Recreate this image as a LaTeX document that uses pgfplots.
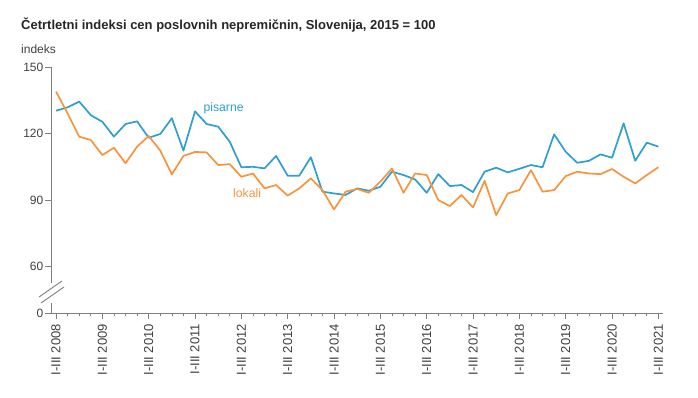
\documentclass[border=0pt]{standalone}
\usepackage{fontspec}
\setmainfont{Liberation Sans}
\usepackage{pgfplots}
\usepackage{pgfplotstable}
\pgfplotsset{compat=1.18}
\definecolor{cblue}{HTML}{2E9FCF}
\definecolor{corange}{HTML}{F7943C}
\definecolor{axgray}{HTML}{7F7F7F}
\definecolor{txtgray}{HTML}{404040}
\pgfplotstableread{
i pisarne lokali
0 130.3 138.9
1 131.8 129.1
2 134.4 118.6
3 128.3 117.1
4 125.3 110.3
5 118.6 113.6
6 124.3 106.6
7 125.5 114.1
8 118.1 118.9
9 119.8 112.3
10 126.9 101.6
11 112.3 109.9
12 130.0 111.7
13 124.3 111.5
14 123.1 105.8
15 116.3 106.2
16 104.8 100.5
17 105.0 102.0
18 104.3 95.3
19 109.9 96.8
20 101.0 92.0
21 101.0 95.3
22 109.3 99.8
23 93.8 94.5
24 93.0 85.8
25 92.3 93.8
26 95.3 95.0
27 94.2 93.3
28 96.0 98.3
29 102.8 104.3
30 101.3 93.3
31 99.3 102.0
32 93.3 101.3
33 101.7 90.0
34 96.3 87.3
35 96.8 92.3
36 93.6 86.7
37 102.8 98.7
38 104.6 83.2
39 102.5 93.0
40 104.1 94.5
41 105.8 103.5
42 104.8 93.8
43 119.6 94.5
44 111.8 100.8
45 106.8 102.8
46 107.7 102.0
47 110.6 101.7
48 109.1 104.0
49 124.6 100.5
50 107.7 97.5
51 115.9 101.3
52 114.1 104.8
}\data
\begin{document}
\begin{tikzpicture}
\path[use as bounding box] (0pt,0pt) rectangle (698pt,398pt);
\node[anchor=base west, inner sep=0pt, font=\bfseries\fontsize{13}{15}\selectfont, text=black!85] at (21pt,368pt) {Četrtletni indeksi cen poslovnih nepremičnin, Slovenija, 2015 = 100};
\node[anchor=base west, inner sep=0pt, font=\fontsize{12}{14}\selectfont, text=txtgray] at (21pt,344pt) {indeks};
\begin{axis}[
  at={(51.5pt,85pt)}, anchor=south west,
  width=611.5pt, height=246pt, scale only axis,
  xmin=-0.39, xmax=52.4, ymin=39.1, ymax=150,
  axis lines=left,
  axis line style={axgray, line width=0.8pt, -},
  tick align=outside,
  tick style={axgray, line width=0.6pt},
  major tick length=6pt,
  minor tick length=3.5pt,
  ytick={39.1,60,90,120,150},
  yticklabels={0,60,90,120,150},
  xtick={0,4,...,52},
  minor xtick={0,1,...,52},
  xticklabels={I-III 2008,I-III 2009,I-III 2010,I-III 2011,I-III 2012,I-III 2013,I-III 2014,I-III 2015,I-III 2016,I-III 2017,I-III 2018,I-III 2019,I-III 2020,I-III 2021},
  xticklabel style={rotate=90, anchor=east, inner xsep=5pt, font=\fontsize{13}{15}\selectfont, text=txtgray},
  yticklabel style={inner sep=2pt, font=\fontsize{12}{14}\selectfont, text=txtgray},
  /pgf/number format/assume math mode=true,
]
\addplot[cblue, line width=1.7pt, line join=round] table[x=i, y=pisarne] {\data};
\addplot[corange, line width=1.7pt, line join=round] table[x=i, y=lokali] {\data};
\node[anchor=west, inner sep=0pt, text=cblue, font=\fontsize{12.2}{14}\selectfont] at (axis cs:12.72,131.3) {pisarne};
\node[anchor=west, inner sep=0pt, text=corange, font=\fontsize{12.2}{14}\selectfont] at (axis cs:15.28,93.2) {lokali};
\end{axis}
% axis break
\fill[white] (49pt,95pt) rectangle (54pt,115pt);
\draw[axgray, line width=0.9pt] (39pt,101pt) -- (62pt,117pt);
\draw[axgray, line width=0.9pt] (41pt,95pt) -- (64pt,111pt);
\end{tikzpicture}
\end{document}
